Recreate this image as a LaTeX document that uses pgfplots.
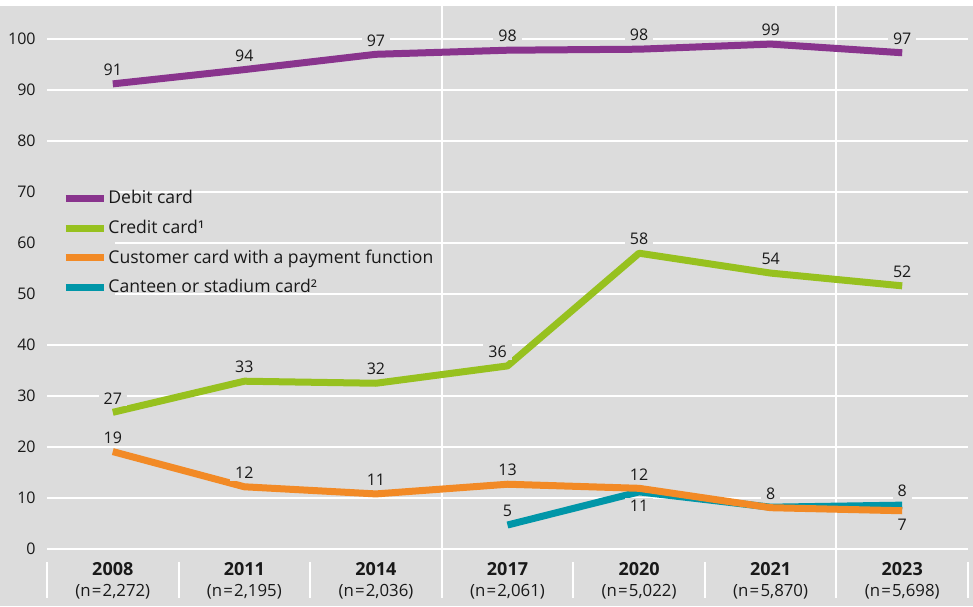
\documentclass[border=0pt]{standalone}
\usepackage{fontspec}
\setmainfont{Open Sans}
\usepackage{pgfplots}
\usepackage{pgfplotstable}
\pgfplotsset{compat=1.18}
\definecolor{bg}{RGB}{220,220,220}
\definecolor{cpurple}{RGB}{137,52,141}
\definecolor{cgreen}{RGB}{151,193,31}
\definecolor{corange}{RGB}{242,138,38}
\definecolor{cteal}{RGB}{0,150,168}
\definecolor{txt}{RGB}{25,25,25}

\pgfplotstableread{
x y l
0 91.2 91
1 94.0 94
2 97.0 97
3 97.8 98
4 98.0 98
5 99.0 99
6 97.3 97
}\debit
\pgfplotstableread{
x y l
0 26.8 27
1 32.9 33
2 32.5 32
3 35.9 36
4 58.0 58
5 54.1 54
6 51.6 52
}\credit
\pgfplotstableread{
x y l
0 19.1 19
1 12.2 12
2 10.8 11
3 12.7 13
4 11.9 12
5 8.1 8
6 7.5 7
}\customer
\pgfplotstableread{
x y l
3 4.7 5
4 11.2 11
5 8.2 8
6 8.6 8
}\canteen

\pgfplotsset{
  lbl/.style={draw=none, forget plot, nodes near coords, point meta=explicit symbolic,
    every node near coord/.style={font=\fontsize{8}{9.6}\selectfont, text=txt, fill=bg,
      inner xsep=2.5pt, inner ysep=1pt, anchor=center, yshift=#1}},
  lbl/.default=7pt,
}
\newcommand{\yl}[2]{\fontsize{9}{10.5}\selectfont\textbf{#1}\\\fontsize{8.4}{10.5}\selectfont(n\kern0.6pt=\kern0.6pt#2)}
\newcommand{\legtxt}[1]{\hspace*{-5.5pt}\vphantom{Ay}#1\hspace*{6pt}}

\begin{document}
\begin{tikzpicture}
\useasboundingbox (-23.5pt,-28.5pt) rectangle (463pt,274.5pt);
\fill[bg] (-23.5pt,-28.5pt) rectangle (463pt,271.5pt);
\begin{axis}[
  at={(0pt,0pt)}, anchor=south west,
  scale only axis, width=460.5pt, height=271.5pt,
  xmin=-0.5, xmax=6.5, ymin=0, ymax=106.47,
  axis line style={draw=none},
  tick style={draw=none},
  clip=false,
  ytick={0,10,...,100},
  xtick={0,...,6},
  xticklabels={{\yl{2008}{2,272}},{\yl{2011}{2,195}},{\yl{2014}{2,036}},{\yl{2017}{2,061}},{\yl{2020}{5,022}},{\yl{2021}{5,870}},{\yl{2023}{5,698}}},
  ymajorgrids, grid style={white, line width=1pt},
  /pgf/number format/assume math mode=true,
  tick label style={font=\fontsize{8}{10.5}\selectfont, text=txt},
  yticklabel style={anchor=east, inner sep=0pt, xshift=-5.5pt},
  xticklabel style={align=center, anchor=north, inner sep=0pt, yshift=-6.5pt},
  legend style={at={(axis cs:-0.5,72.3)}, anchor=north west, draw=none, fill=none,
    inner sep=0pt, font=\fontsize{8.8}{10}\selectfont, text=txt,
    cells={anchor=west, fill=bg}, row sep=-3.1pt},
  legend image code/.code={\fill[bg] (-7.5pt,-7.2pt) rectangle (23pt,7.2pt);
    \draw[#1, line width=3.5pt, line cap=butt] (0pt,0pt) -- (19pt,0pt);},
  every axis plot/.append style={line width=3.5pt, line join=round},
]
\draw[white, line width=1pt] (axis cs:2.5,106.47) -- (axis cs:2.5,-9.61);
\draw[white, line width=1pt] (axis cs:5.5,106.47) -- (axis cs:5.5,-9.61);
\draw[white, line width=1pt] (axis cs:-0.5,-2.55) -- (axis cs:-0.5,-9.61);
\draw[white, line width=1pt] (axis cs:0.5,-2.55) -- (axis cs:0.5,-9.61);
\draw[white, line width=1pt] (axis cs:1.5,-2.55) -- (axis cs:1.5,-9.61);
\draw[white, line width=1pt] (axis cs:3.5,-2.55) -- (axis cs:3.5,-9.61);
\draw[white, line width=1pt] (axis cs:4.5,-2.55) -- (axis cs:4.5,-9.61);
\draw[white, line width=1pt] (axis cs:6.5,-2.55) -- (axis cs:6.5,-9.61);
\addplot[cpurple, forget plot] table[x=x, y=y] {\debit};
\addplot[cgreen, forget plot] table[x=x, y=y] {\credit};
\addplot[cteal, forget plot] table[x=x, y=y] {\canteen};
\addplot[corange, forget plot] table[x=x, y=y] {\customer};
\addplot[lbl] table[x=x, y=y, meta=l] {\debit};
\addplot[lbl, x filter/.expression={x==3 ? nan : x}] table[x=x, y=y, meta=l] {\credit};
\addplot[lbl, x filter/.expression={x==3 ? x : nan}, every node near coord/.append style={xshift=-5pt}] table[x=x, y=y, meta=l] {\credit};
\addplot[lbl, x filter/.expression={x==4 ? nan : x}] table[x=x, y=y, meta=l] {\canteen};
\addplot[lbl=-7pt, x filter/.expression={x==4 ? x : nan}] table[x=x, y=y, meta=l] {\canteen};
\addplot[lbl, x filter/.expression={x==6 ? nan : x}] table[x=x, y=y, meta=l] {\customer};
\addplot[lbl=-7pt, x filter/.expression={x==6 ? x : nan}] table[x=x, y=y, meta=l] {\customer};
\addlegendimage{cpurple}
\addlegendentry{\legtxt{Debit card}}
\addlegendimage{cgreen}
\addlegendentry{\legtxt{Credit card¹}}
\addlegendimage{corange}
\addlegendentry{\legtxt{Customer card with a payment function}}
\addlegendimage{cteal}
\addlegendentry{\legtxt{Canteen or stadium card²}}
\end{axis}
\end{tikzpicture}
\end{document}
